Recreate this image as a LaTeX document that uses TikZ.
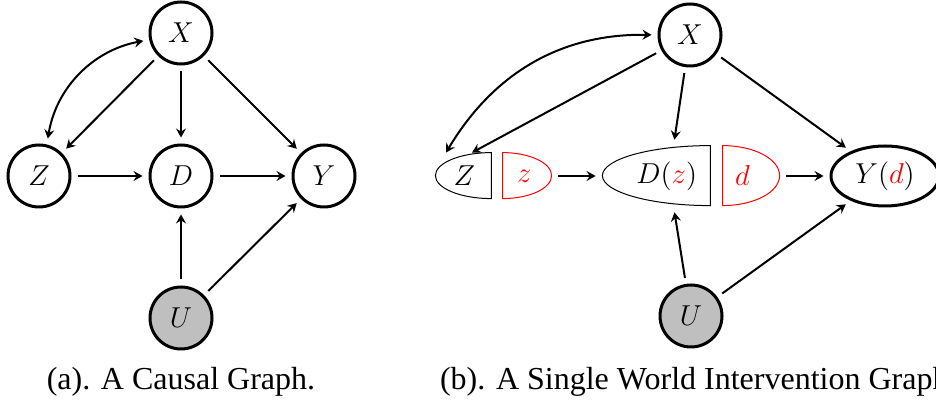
\documentclass[tikz,border=0pt]{standalone}
\usepackage{amsmath}
\usepackage{fontspec}
\setmainfont[Ligatures=TeX]{Liberation Serif}
\usetikzlibrary{shapes.geometric}
\usetikzlibrary{arrows.meta}
\tikzset{barb/.tip={Stealth[length=4.5pt,width=5pt,inset=1.6pt]}}
\tikzset{var/.style={circle,draw,line width=1.5pt,minimum size=31pt,inner sep=0pt,font=\fontsize{15.5}{18}\selectfont}}
\tikzset{hidden/.style={var,fill=black!25}}
\tikzset{half/.style={inner ysep=0pt,minimum height=#1,font=\fontsize{15.5}{18}\selectfont},half/.default=23pt}
\tikzset{arr/.style={-barb,line width=1pt,shorten >=3pt,shorten <=3pt}}
\tikzset{caption/.style={font=\fontsize{16}{19}\selectfont,anchor=base}}

\begin{document}
\begin{tikzpicture}[x=0.5pt,y=0.5pt]
	\useasboundingbox (0,0) rectangle (936,406);

	% O grafo causal
	\node[var] (X) at (181,373) {$X$};
	\node[var] (Z) at (39,230) {$Z$};
	\node[var] (D) at (181,230) {$D$};
	\node[var] (Y) at (324,230) {$Y$};
	\node[hidden] (U) at (181,88) {$U$};

	\draw [arr] (X) -- (Z);
	\draw [arr,barb-barb] (X.192) to[bend right=35] (Z.76);
	\draw [arr] (X) -- (D);
	\draw [arr] (X) -- (Y);
	\draw [arr] (Z) -- (D);
	\draw [arr] (D) -- (Y);
	\draw [arr] (U) -- (D);
	\draw [arr] (U) -- (Y);

	\node[caption] (capa) at (181,16) {(a). A Causal Graph.};

	% O SWIG
	\node[var] (Xb) at (690,371) {$X$};
	\node[half,text width=12pt,inner xsep=8pt,align=right] (Zb) at (463,230) {$Z$};
	\node[half,text width=10.5pt,inner xsep=7pt,align=left] (zb) at (527.5,230) {$\textcolor{red}{z}$};
	\node[half=30pt,text width=41pt,inner xsep=6.5pt,align=right] (Db) at (656,230) {$D(\textcolor{red}{z})$};
	\node[half=30pt,text width=16.5pt,inner xsep=6pt,align=left] (db) at (751.5,230) {$\textcolor{red}{d}$};
	\node[var,ellipse,minimum width=54pt,minimum height=30pt] (Yb) at (885,230) {$Y(\textcolor{red}{d})$};
	\node[hidden] (Ub) at (691,90) {$U$};

	% Metades dos nos divididos
	\draw [line width=0.5pt] (Zb.north east) arc[start angle=90,end angle=270,x radius=28pt,y radius=11.5pt] -- cycle;
	\draw [red,line width=0.5pt] (zb.north west) arc[start angle=90,end angle=-90,x radius=24.5pt,y radius=11.5pt] -- cycle;
	\draw [line width=0.5pt] (Db.north east) arc[start angle=90,end angle=270,x radius=54pt,y radius=15pt] -- cycle;
	\draw [red,line width=0.5pt] (db.north west) arc[start angle=90,end angle=-90,x radius=28.5pt,y radius=15pt] -- cycle;

	\draw [arr,shorten >=0pt] (Xb) -- (Zb.69);
	\draw [arr,barb-barb,shorten >=0pt] (Xb.west) to[bend right=30] (Zb.126);
	\draw [arr] (Xb) -- (Db.60);
	\draw [arr] (Xb) -- (Yb);
	\draw [arr] (zb.east) -- (Db.west);
	\draw [arr] (db.east) -- (Yb);
	\draw [arr] (Ub) -- (Db.-60);
	\draw [arr] (Ub) -- (Yb);

	\node[caption,anchor=base west] (capb) at (433,16) {(b). A Single World Intervention Graph.};
\end{tikzpicture}
\end{document}
